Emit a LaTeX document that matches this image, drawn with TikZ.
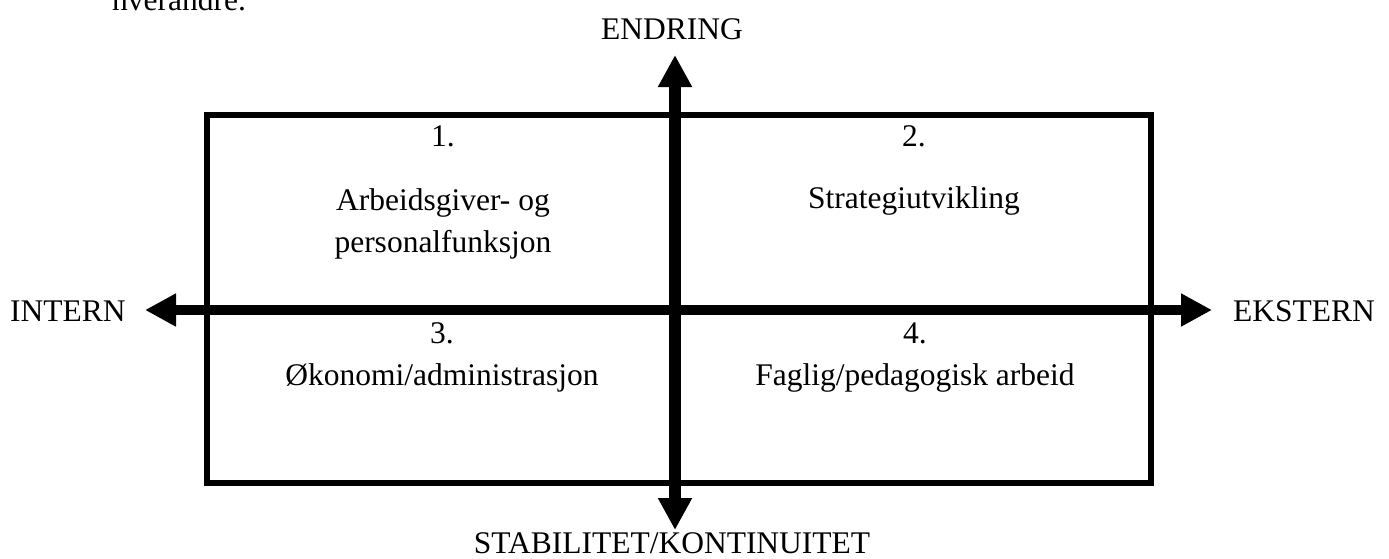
\documentclass[tikz,border=0pt]{standalone}
\usepackage{fontspec}
\setmainfont{Liberation Serif}
\usetikzlibrary{arrows.meta}
\tikzset{
  lbl/.style={anchor=base, inner sep=0pt, font=\fontsize{31.5}{36}\selectfont},
  axisH/.style={line width=10pt, {Triangle[length=31pt,width=31pt]}-{Triangle[length=31pt,width=31pt]}},
  axisV/.style={line width=12pt, {Triangle[length=32pt,width=32pt]}-{Triangle[length=32pt,width=32pt]}},
  frame/.style={line width=6pt}
}
\begin{document}
\begin{tikzpicture}[x=1pt,y=-1pt]
\useasboundingbox (0,0) rectangle (1389,558);
% cut-off text at top
\node[lbl, anchor=base west] (prev) at (112,10) {hverandre.};
% frame
\draw[frame] (207,115) rectangle (1151,483);
% axes
\coordinate (L) at (145,310);
\coordinate (R) at (1212,310);
\coordinate (T) at (675,55);
\coordinate (B) at (675,530);
\draw[axisH] (L) -- (R);
\draw[axisV] (T) -- (B);
% axis labels
\node[lbl] (endring) at (672,39) {ENDRING};
\node[lbl] (stab) at (672,553) {STABILITET/KONTINUITET};
\node[lbl, anchor=base west] (intern) at (10,321) {INTERN};
\node[lbl, anchor=base west] (ekstern) at (1233,321) {EKSTERN};
% quadrant texts
\node[lbl] (n1) at (443,146) {1.};
\node[lbl] (q1a) at (443,210) {Arbeidsgiver- og};
\node[lbl] (q1b) at (443,252) {personalfunksjon};
\node[lbl] (n2) at (914,146) {2.};
\node[lbl] (q2) at (914,208) {Strategiutvikling};
\node[lbl] (n3) at (442,343) {3.};
\node[lbl] (q3) at (442,385) {Økonomi/administrasjon};
\node[lbl] (n4) at (915,343) {4.};
\node[lbl] (q4) at (915,385) {Faglig/pedagogisk arbeid};
\end{tikzpicture}
\end{document}
